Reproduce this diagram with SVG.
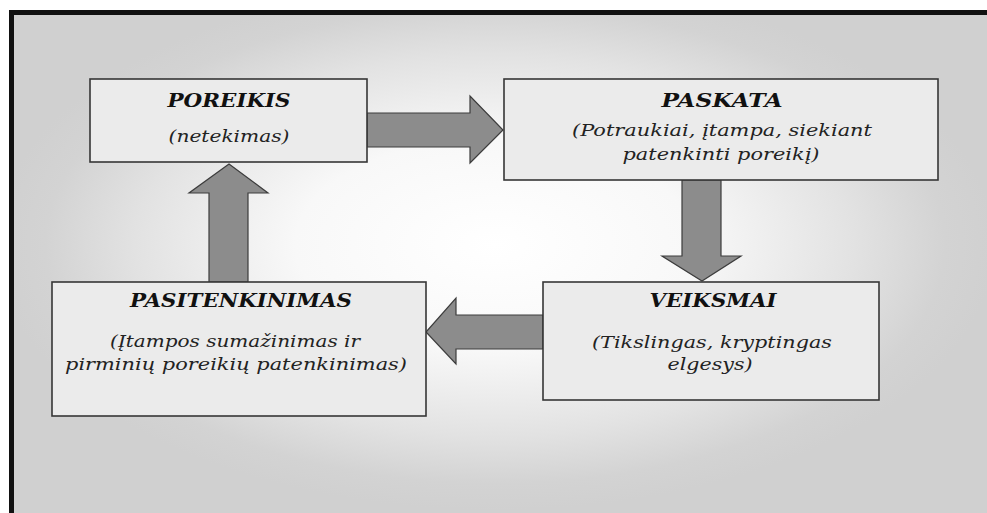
<svg xmlns="http://www.w3.org/2000/svg" width="987" height="513" viewBox="0 0 987 513">
  <defs>
    <radialGradient id="bgGlow" gradientUnits="userSpaceOnUse" cx="0" cy="0" r="1" gradientTransform="translate(495 245) scale(500 265)">
      <stop offset="0" stop-color="#ffffff"/>
      <stop offset="0.4" stop-color="#f8f8f8"/>
      <stop offset="0.72" stop-color="#e2e2e2"/>
      <stop offset="0.9" stop-color="#d3d3d3"/>
      <stop offset="1" stop-color="#d0d0d0"/>
    </radialGradient>
  </defs>
  <style>
    .box { fill: #ebebeb; stroke: #363636; stroke-width: 1.6; }
    .arrow { fill: #8c8c8c; stroke: #3c3c3c; stroke-width: 1.2; stroke-linejoin: miter; }
    .title { font-family: "DejaVu Serif", "Liberation Serif", serif; font-style: italic; font-weight: bold; font-size: 19px; fill: #111; text-anchor: middle; }
    .sub { font-family: "DejaVu Serif", "Liberation Serif", serif; font-style: italic; font-size: 17px; fill: #222; text-anchor: middle; }
  </style>

  <!-- page background and frame -->
  <rect x="0" y="0" width="987" height="513" fill="#ffffff"/>
  <rect x="12" y="12" width="975" height="501" fill="url(#bgGlow)"/>
  <line x1="9" y1="12.5" x2="987" y2="12.5" stroke="#111" stroke-width="5"/>
  <line x1="11.5" y1="10" x2="11.5" y2="513" stroke="#111" stroke-width="5"/>

  <!-- connectors -->
  <g id="connectors">
    <path class="arrow" d="M367 113 H470 V96 L503 130 L470 163 V147 H367 Z"/>
    <path class="arrow" d="M682 180 V256 H662 L702 281 L741 256 H721 V180 Z"/>
    <path class="arrow" d="M543 315 H456 V298 L426 332 L456 364 V349 H543 Z"/>
    <path class="arrow" d="M209 282 V193 H189 L229 164 L268 193 H248 V282 Z"/>
  </g>

  <g id="poreikis">
    <rect class="box" x="90" y="79" width="277" height="83"/>
    <text class="title" x="229" y="107" textLength="123" lengthAdjust="spacingAndGlyphs">POREIKIS</text>
    <text class="sub" x="229" y="142" textLength="121" lengthAdjust="spacingAndGlyphs">(netekimas)</text>
  </g>

  <g id="paskata">
    <rect class="box" x="504" y="79" width="434" height="101"/>
    <text class="title" x="722" y="107" textLength="121" lengthAdjust="spacingAndGlyphs">PASKATA</text>
    <text class="sub" x="722" y="136" textLength="300" lengthAdjust="spacingAndGlyphs">(Potraukiai, įtampa, siekiant</text>
    <text class="sub" x="721" y="160" textLength="197" lengthAdjust="spacingAndGlyphs">patenkinti poreikį)</text>
  </g>

  <g id="veiksmai">
    <rect class="box" x="543" y="282" width="336" height="118"/>
    <text class="title" x="713" y="307" textLength="127" lengthAdjust="spacingAndGlyphs">VEIKSMAI</text>
    <text class="sub" x="712" y="348" textLength="240" lengthAdjust="spacingAndGlyphs">(Tikslingas, kryptingas</text>
    <text class="sub" x="710" y="370" textLength="85" lengthAdjust="spacingAndGlyphs">elgesys)</text>
  </g>

  <g id="pasitenkinimas">
    <rect class="box" x="52" y="282" width="374" height="134"/>
    <text class="title" x="241" y="307" textLength="222" lengthAdjust="spacingAndGlyphs">PASITENKINIMAS</text>
    <text class="sub" x="235" y="347" textLength="250" lengthAdjust="spacingAndGlyphs">(Įtampos sumažinimas ir</text>
    <text class="sub" x="236" y="370" textLength="342" lengthAdjust="spacingAndGlyphs">pirminių poreikių patenkinimas)</text>
  </g>
</svg>
